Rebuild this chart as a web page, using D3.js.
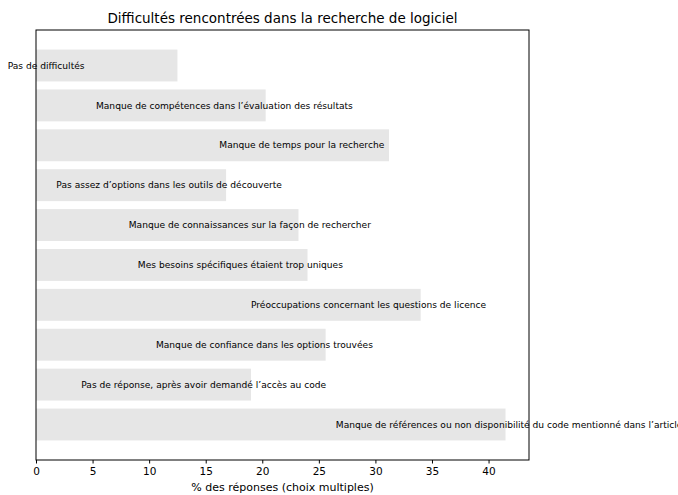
<!DOCTYPE html>
<html>
  <head>
    <meta charset="utf-8">
    <style>
      body { margin: 0; background: #fff; }
      svg text { font-family: "DejaVu Sans", sans-serif; fill: #000; }
      .axis path, .axis line { stroke: #000; }
      .axis text { font-size: 10.5px; }
    </style>
  </head>
  <body>
    <svg width="678" height="495"></svg>
    <script src="https://d3js.org/d3.v7.min.js"></script>
    <script>
      var categories = [
        "Pas de difficultés",
        "Manque de compétences dans l’évaluation des résultats",
        "Manque de temps pour la recherche",
        "Pas assez d’options dans les outils de découverte",
        "Manque de connaissances sur la façon de rechercher",
        "Mes besoins spécifiques étaient trop uniques",
        "Préoccupations concernant les questions de licence",
        "Manque de confiance dans les options trouvées",
        "Pas de réponse, après avoir demandé l’accès au code",
        "Manque de références ou non disponibilité du code mentionné dans l’article"
      ];
      var values = [12.5, 20.3, 31.2, 16.8, 23.2, 24.0, 34.0, 25.6, 19.0, 41.5];
      var xTicks = [0, 5, 10, 15, 20, 25, 30, 35, 40];
      var labelOffset = 15; // labels start 15 units left of the bar end

      var svg = d3.select("svg"),
        margin = { top: 30, right: 149, bottom: 35, left: 36 },
        width = +svg.attr("width") - margin.left - margin.right,
        height = +svg.attr("height") - margin.top - margin.bottom;

      var xMax = d3.max(values) * 1.05;
      var x = d3.scaleLinear().domain([0, xMax]).range([0, width]);

      // matplotlib-like barh: bar height 0.8, 5% margins
      var n = categories.length;
      var y = d3.scaleLinear()
        .domain([-0.4 - 0.49, n - 1 + 0.4 + 0.49])
        .range([0, height]);

      var g = svg.append("g")
        .attr("transform", "translate(" + margin.left + "," + margin.top + ")");

      g.selectAll("rect.bar")
        .data(values)
        .enter().append("rect")
        .attr("class", "bar")
        .attr("x", x(0))
        .attr("y", function(d, i) { return y(i - 0.4); })
        .attr("width", function(d) { return x(d) - x(0); })
        .attr("height", y(0.8) - y(0))
        .attr("fill", "#e6e6e6");

      g.selectAll("text.lab")
        .data(values)
        .enter().append("text")
        .attr("class", "lab")
        .attr("x", function(d) { return x(d - labelOffset); })
        .attr("y", function(d, i) { return y(i); })
        .attr("dy", "0.35em")
        .style("font-size", "9.1px")
        .text(function(d, i) { return categories[i]; });

      g.append("rect")
        .attr("x", 0).attr("y", 0)
        .attr("width", width).attr("height", height)
        .attr("fill", "none")
        .attr("stroke", "#000")
        .attr("stroke-width", 1);

      g.append("g")
        .attr("class", "axis")
        .attr("transform", "translate(0," + height + ")")
        .call(d3.axisBottom(x).tickValues(xTicks).tickSize(3.5).tickSizeOuter(0).tickPadding(4))
        .call(function(s) { s.select(".domain").remove(); });

      svg.append("text")
        .attr("x", margin.left + width / 2)
        .attr("y", 23)
        .attr("text-anchor", "middle")
        .style("font-size", "13.5px")
        .text("Difficultés rencontrées dans la recherche de logiciel");

      svg.append("text")
        .attr("x", margin.left + width / 2)
        .attr("y", 491)
        .attr("text-anchor", "middle")
        .style("font-size", "11px")
        .text("% des réponses (choix multiples)");
    </script>
  </body>
</html>
